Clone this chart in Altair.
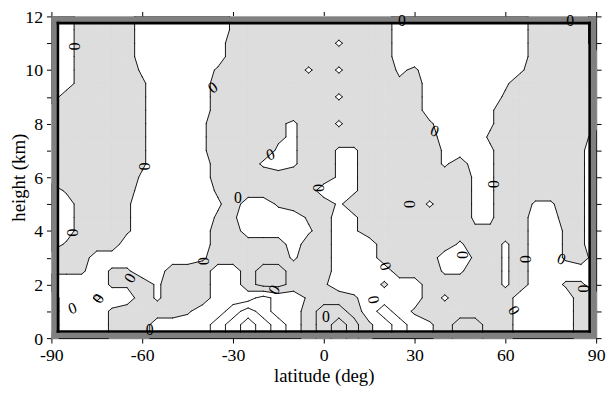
import altair as alt
import numpy as np
import pandas as pd

# ---------------- data ----------------
latitudes = [-90 + 5 * j for j in range(37)]          # grid columns (deg)
heights = [12 - 0.5 * i for i in range(25)]           # grid rows, top = 12 km

# field sign / magnitude per grid node ('.' +1, '#' -1, '+' +0.3, '-' -0.3, 2..4 positive, b/c negative)
field_rows = [
    "..####......-##########.........####.",
    "..####......-##########.........####.",
    "..####......#######+###.........####.",
    "..####......###########.........#####",
    "..####+....-#####+#+###+-......+#####",
    "..####-....############-#.....+######",
    ".#####-....########+#####.....-######",
    "######-....##############....+#######",
    "######-...+####-+##+#####-...+#######",
    "######-...+####-+#########...-######.",
    "######-...+####++##++#####+..+#####-.",
    "######-....###+.+##++#####+#.+#####-.",
    "######+....########++#######++#####-.",
    ".-####.....-######..+#######++#####-.",
    "..###-.....+#..-###+#####+##++##++#-.",
    "..###-.....--....-#.+#######++##..#-.",
    "..###-.....##....+#.+#######--##..--.",
    ".-###......#####.##...#####+##+#..--.",
    "###.......+#####+##...####..-#+#..-#.",
    "---.--..###..#bb###....###++##+#.....",
    "....--#+###..#bb##-...-..#####+#..--.",
    "#..-..#+###...2..-##-....#+####....##",
    "#...-####-..232..#bb#.2.-######....##",
    "#...-##....23432.#bcb-.2.+#bb##....##",
    "#...-##....23432.#bcb-.2.+#bb##....##",
]
symbol_values = {".": 1.0, "#": -1.0, "+": 0.3, "-": -0.3,
                 "2": 2.0, "3": 3.0, "4": 4.0, "b": -2.0, "c": -3.0}
contour_levels = [0.0, 1.5, 2.5, 3.5, -1.5, -2.5]

# "0" contour labels
label_lat = [-82.6, -36.6, -59.4, -17.6, 25.8, 36.6, 81.4, 56.0, -28.4, -1.9,
             -83.3, -39.8, -64.0, -74.5, -83.0, -57.5, -16.3, 0.7, 20.3, 16.4,
             45.5, 66.4, 78.5, 85.7, 62.8, 28.0]
label_h = [10.88, 9.34, 6.4, 6.84, 11.84, 7.72, 11.84, 5.74, 5.22, 5.6,
           3.93, 2.87, 2.24, 1.47, 1.1, 0.29, 1.8, 0.8, 2.68, 1.43,
           3.1, 2.94, 2.94, 1.84, 1.03, 5.0]
label_angle = [90, 325, 90, 340, 0, 20, 0, 90, 0, 90,
               90, 90, 300, 300, 340, 0, 300, 0, 70, 80,
               90, 90, 20, 90, 60, 90]

x_ticks = [-90, -60, -30, 0, 30, 60, 90]
y_ticks = list(range(0, 13))

# ---------------- contouring of the grid (marching squares) ----------------
Z = np.array([[symbol_values[ch] for ch in row] for row in field_rows])
ny, nx = Z.shape


def cross(p, q, vp, vq, level):
    t = (level - vp) / (vq - vp)
    return (p[0] + t * (q[0] - p[0]), p[1] + t * (q[1] - p[1]))


poly_rows = []
seg_rows = []
pid = 0
for i in range(ny - 1):
    for j in range(nx - 1):
        P = [(latitudes[j], heights[i]), (latitudes[j + 1], heights[i]),
             (latitudes[j + 1], heights[i + 1]), (latitudes[j], heights[i + 1])]
        V = [Z[i, j], Z[i, j + 1], Z[i + 1, j + 1], Z[i + 1, j]]
        centre = sum(V) / 4.0
        neg = [v < 0 for v in V]
        if any(neg):
            saddle = neg[0] == neg[2] and neg[1] == neg[3] and neg[0] != neg[1]
            polys = []
            if saddle and centre >= 0:
                for k in range(4):
                    if neg[k]:
                        km, kp = (k - 1) % 4, (k + 1) % 4
                        polys.append([cross(P[km], P[k], V[km], V[k], 0.0), P[k],
                                      cross(P[k], P[kp], V[k], V[kp], 0.0)])
            else:
                pts = []
                for k in range(4):
                    kp = (k + 1) % 4
                    if neg[k]:
                        pts.append(P[k])
                    if neg[k] != neg[kp]:
                        pts.append(cross(P[k], P[kp], V[k], V[kp], 0.0))
                polys.append(pts)
            for pts in polys:
                for k, (a, b) in enumerate(pts + [pts[0]]):
                    poly_rows.append({"pid": pid, "k": k, "lat": a, "h": b})
                pid += 1
        for L in contour_levels:
            s = [v >= L for v in V]
            e = {}
            for k in range(4):
                kp = (k + 1) % 4
                if s[k] != s[kp]:
                    e[k] = cross(P[k], P[kp], V[k], V[kp], L)
            pairs = []
            if len(e) == 2:
                a, b = list(e.values())
                pairs.append((a, b))
            elif len(e) == 4:
                if (centre >= L) == s[0]:
                    pairs += [(e[0], e[1]), (e[2], e[3])]
                else:
                    pairs += [(e[3], e[0]), (e[1], e[2])]
            for a, b in pairs:
                seg_rows.append({"lat": a[0], "h": a[1], "lat2": b[0], "h2": b[1]})

poly_df = pd.DataFrame(poly_rows)
seg_df = pd.DataFrame(seg_rows)
label_df = pd.DataFrame({"lat": label_lat, "h": label_h, "ang": label_angle,
                         "txt": ["0"] * len(label_lat)})

# frame (picture-frame style border)
bx, by = 1.8, 0.21
band_df = pd.DataFrame({
    "x": [-90, 90 - bx, -90, -90], "x2": [-90 + bx, 90, 90, 90],
    "y": [0, 0, 0, 12 - by], "y2": [12, 12, by, 12]})
lx, ly = 2.15, 0.25
line_df = pd.DataFrame({
    "x": [-90 + lx, 90 - lx, -90 + lx, -90 + lx],
    "x2": [-90 + lx, 90 - lx, 90 - lx, 90 - lx],
    "y": [ly, ly, ly, 12 - ly], "y2": [12 - ly, 12 - ly, ly, 12 - ly]})

# ---------------- chart ----------------
FONT = "Liberation Serif"
W, H = 552, 326
xs = alt.Scale(domain=[-90, 90], nice=False, zero=False)
ys = alt.Scale(domain=[0, 12], nice=False, zero=False)
ax = dict(grid=False, domainColor="black", tickColor="black", domainWidth=1,
          tickWidth=1, tickSize=5, labelFont=FONT, labelFontSize=18,
          labelColor="black", labelFlush=False, titleFont=FONT, titleFontSize=19,
          titleFontWeight="normal", titleColor="black")

x_bottom = alt.Axis(orient="bottom", values=x_ticks, labelExpr="'' + datum.value",
                    labelPadding=4, title="latitude (deg)", titleX=W / 2, titleY=38,
                    titleAlign="center", titleBaseline="middle", **ax)
y_left = alt.Axis(orient="left", values=y_ticks,
                  labelExpr="datum.value % 2 == 0 ? '' + datum.value : ''",
                  labelPadding=4, labelOffset=1, title="height (km)", titleX=-33,
                  titleY=H / 2, titleAngle=270, titleAlign="center",
                  titleBaseline="middle", **ax)
x_top = alt.Axis(orient="top", values=x_ticks, labels=False, title=None, **ax)
y_right = alt.Axis(orient="right", values=y_ticks, labels=False, title=None, **ax)

fill = alt.Chart(poly_df).mark_line(
    fill="#dddddd", stroke="#dddddd", strokeWidth=0.8
).encode(
    x=alt.X("lat:Q", scale=xs, axis=x_bottom),
    y=alt.Y("h:Q", scale=ys, axis=y_left),
    detail="pid:N",
    order=alt.Order("k:Q"),
)

lines = alt.Chart(seg_df).mark_rule(color="black", strokeWidth=0.9, strokeCap="round").encode(
    x=alt.X("lat:Q", scale=xs, axis=None), y=alt.Y("h:Q", scale=ys, axis=None),
    x2="lat2:Q", y2="h2:Q")

bands = alt.Chart(band_df).mark_rect(color="#808080").encode(
    x=alt.X("x:Q", scale=xs, axis=x_top), x2="x2:Q",
    y=alt.Y("y:Q", scale=ys, axis=y_right), y2="y2:Q")

inner = alt.Chart(line_df).mark_rule(color="black", strokeWidth=2.6, strokeCap="square").encode(
    x=alt.X("x:Q", scale=xs, axis=None), x2="x2:Q",
    y=alt.Y("y:Q", scale=ys, axis=None), y2="y2:Q")

labels = alt.Chart(label_df).mark_text(font=FONT, fontSize=16, color="black",
                                       align="center", baseline="middle").encode(
    x=alt.X("lat:Q", scale=xs, axis=None), y=alt.Y("h:Q", scale=ys, axis=None),
    angle=alt.Angle("ang:Q", scale=None), text="txt:N")

chart = alt.layer(fill, lines, bands, inner, labels).resolve_axis(
    x="independent", y="independent"
).properties(
    width=W, height=H,
    autosize=alt.AutoSizeParams(type="none"),
    padding={"left": 44, "top": 6, "right": 10, "bottom": 47},
).configure_view(stroke=None)

chart.save("out.html", embed_options={"renderer": "svg", "actions": False})
